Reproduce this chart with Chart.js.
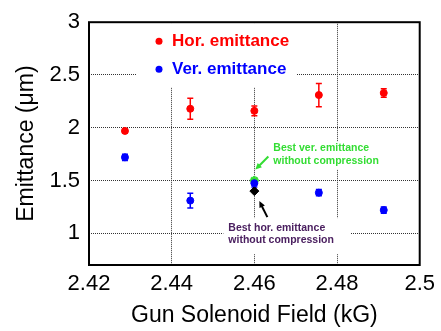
<!DOCTYPE html>
<html>
<head>
<meta charset="utf-8">
<script src="https://cdn.jsdelivr.net/npm/chart.js@4.4.0/dist/chart.umd.min.js"></script>
<style>
  html, body { margin: 0; padding: 0; background: #fff; }
  canvas { display: block; }
</style>
</head>
<body>
<canvas id="chart" width="441" height="331"></canvas>
<script>
// Data
const fieldKG = [2.4287, 2.4445, 2.46, 2.4756, 2.4913];
const horEmit = [1.97, 2.18, 2.16, 2.31, 2.33];
const horErr  = [0.02, 0.10, 0.045, 0.11, 0.04];
const verEmit = [1.72, 1.31, 1.475, 1.385, 1.22];
const verErr  = [0.03, 0.07, 0.035, 0.03, 0.03];
const bestVer = [{ x: 2.46, y: 1.5 }];
const bestHor = [{ x: 2.46, y: 1.40 }];

const xTicks = [2.42, 2.44, 2.46, 2.48, 2.5];
const xTickLabels = ['2.42', '2.44', '2.46', '2.48', '2.5'];
const yTicks = [1, 1.5, 2, 2.5, 3];
const yTickLabels = ['1', '1.5', '2', '2.5', '3'];

const FONT = '"Liberation Sans", Arial, sans-serif';
const GREEN = '#33dd33';
const PURPLE = '#4b2060';

function toPoints(xs, ys) {
    return xs.map((x, i) => ({ x: x, y: ys[i] }));
}

// vertical error bars with caps
const errorBars = {
    id: 'errorBars',
    beforeDatasetsDraw(chart) {
        const ctx = chart.ctx;
        const xs = chart.scales.x, ys = chart.scales.y;
        const sets = [[horEmit, horErr, 'red'], [verEmit, verErr, 'blue']];
        ctx.save();
        ctx.lineWidth = 1.5;
        sets.forEach(([vals, errs, color]) => {
            ctx.strokeStyle = color;
            vals.forEach((v, i) => {
                const px = xs.getPixelForValue(fieldKG[i]);
                const top = ys.getPixelForValue(v + errs[i]);
                const bot = ys.getPixelForValue(v - errs[i]);
                ctx.beginPath();
                ctx.moveTo(px, top); ctx.lineTo(px, bot);
                ctx.moveTo(px - 3, top); ctx.lineTo(px + 3, top);
                ctx.moveTo(px - 3, bot); ctx.lineTo(px + 3, bot);
                ctx.stroke();
            });
        });
        ctx.restore();
    }
};

function arrow(ctx, x1, y1, x2, y2, color) {
    const ang = Math.atan2(y2 - y1, x2 - x1);
    ctx.strokeStyle = color;
    ctx.fillStyle = color;
    ctx.lineWidth = 2;
    ctx.beginPath();
    ctx.moveTo(x1, y1);
    ctx.lineTo(x2 - 4 * Math.cos(ang), y2 - 4 * Math.sin(ang));
    ctx.stroke();
    ctx.beginPath();
    ctx.moveTo(x2, y2);
    ctx.lineTo(x2 - 7 * Math.cos(ang - 0.45), y2 - 7 * Math.sin(ang - 0.45));
    ctx.lineTo(x2 - 7 * Math.cos(ang + 0.45), y2 - 7 * Math.sin(ang + 0.45));
    ctx.closePath();
    ctx.fill();
}

// frame, legend and annotations
const overlay = {
    id: 'overlay',
    afterDraw(chart) {
        const ctx = chart.ctx;
        const a = chart.chartArea;
        const xs = chart.scales.x, ys = chart.scales.y;
        ctx.save();

        // legend box
        ctx.fillStyle = '#fff';
        ctx.fillRect(a.left + 48, a.top + 1, 160, 64);
        ctx.font = 'bold 17px ' + FONT;
        ctx.textBaseline = 'middle';
        const legend = [['Hor. emittance', 'red', 19], ['Ver. emittance', 'blue', 47]];
        legend.forEach(([txt, col, dy]) => {
            ctx.fillStyle = col;
            ctx.beginPath();
            ctx.arc(a.left + 70, a.top + dy, 3.5, 0, Math.PI * 2);
            ctx.fill();
            ctx.fillText(txt, a.left + 83, a.top + dy);
        });

        // annotations anchored on the best points
        const gx = xs.getPixelForValue(bestVer[0].x);
        const gy = ys.getPixelForValue(bestVer[0].y);
        const bx = xs.getPixelForValue(bestHor[0].x);
        const by = ys.getPixelForValue(bestHor[0].y);

        ctx.font = 'bold 10.5px ' + FONT;
        ctx.fillStyle = '#fff';
        ctx.fillRect(gx + 17, gy - 39, 118, 28);
        ctx.fillRect(bx - 31, by + 27, 127, 36);

        ctx.fillStyle = GREEN;
        ctx.fillText('Best ver. emittance', gx + 19, gy - 32);
        ctx.fillText('without compression', gx + 19, gy - 19);
        arrow(ctx, gx + 14, gy - 24, gx + 1, gy - 11, GREEN);

        ctx.fillStyle = PURPLE;
        ctx.fillText('Best hor. emittance', bx - 26, by + 37);
        ctx.fillText('without compression', bx - 26, by + 49);
        arrow(ctx, bx + 13, by + 26, bx + 5, by + 10, '#000');

        // box round the plot
        ctx.strokeStyle = '#000';
        ctx.lineWidth = 2;
        ctx.strokeRect(a.left, a.top, a.right - a.left, a.bottom - a.top);
        ctx.restore();
    }
};

new Chart(document.getElementById('chart'), {
    type: 'scatter',
    data: {
        datasets: [
            {
                label: 'Hor. emittance',
                data: toPoints(fieldKG, horEmit),
                backgroundColor: 'red',
                borderColor: 'red',
                pointRadius: 3.5
            },
            {
                label: 'Ver. emittance',
                data: toPoints(fieldKG, verEmit),
                backgroundColor: 'blue',
                borderColor: 'blue',
                pointRadius: 3.5
            },
            {
                label: 'Best hor. emittance',
                data: bestHor,
                pointStyle: 'rectRot',
                backgroundColor: '#000',
                borderColor: '#000',
                pointRadius: 4.5
            },
            {
                label: 'Best ver. emittance',
                data: bestVer,
                pointStyle: 'star',
                borderColor: GREEN,
                borderWidth: 2.5,
                pointRadius: 4.5
            }
        ]
    },
    options: {
        responsive: false,
        animation: false,
        layout: { padding: { left: 0, right: 21, top: 13, bottom: 0 } },
        plugins: {
            legend: { display: false },
            tooltip: { enabled: false }
        },
        scales: {
            x: {
                type: 'linear',
                min: 2.42,
                max: 2.5,
                afterBuildTicks: s => { s.ticks = xTicks.map(v => ({ value: v })); },
                afterFit: s => { s.height = 66; },
                ticks: {
                    padding: 6,
                    color: '#000',
                    font: { family: FONT, size: 22 },
                    callback: (v, i) => xTickLabels[i]
                },
                grid: { color: '#333', lineWidth: 1, drawTicks: false },
                border: { display: false, dash: [1, 1] },
                title: {
                    display: true,
                    text: 'Gun Solenoid Field (kG)',
                    color: '#000',
                    font: { family: FONT, size: 23 },
                    padding: { top: 0, bottom: 2 }
                }
            },
            y: {
                type: 'linear',
                min: 0.7,
                max: 3,
                afterBuildTicks: s => { s.ticks = yTicks.map(v => ({ value: v })); },
                afterFit: s => { s.width = 89; },
                ticks: {
                    padding: 9,
                    color: '#000',
                    font: { family: FONT, size: 22 },
                    callback: (v, i) => yTickLabels[i]
                },
                grid: { color: '#333', lineWidth: 1, drawTicks: false },
                border: { display: false, dash: [1, 1] },
                title: {
                    display: true,
                    text: 'Emittance (\u03bcm)',
                    color: '#000',
                    font: { family: FONT, size: 23 },
                    padding: { top: 13, bottom: 0 }
                }
            }
        }
    },
    plugins: [errorBars, overlay]
});
</script>
</body>
</html>
